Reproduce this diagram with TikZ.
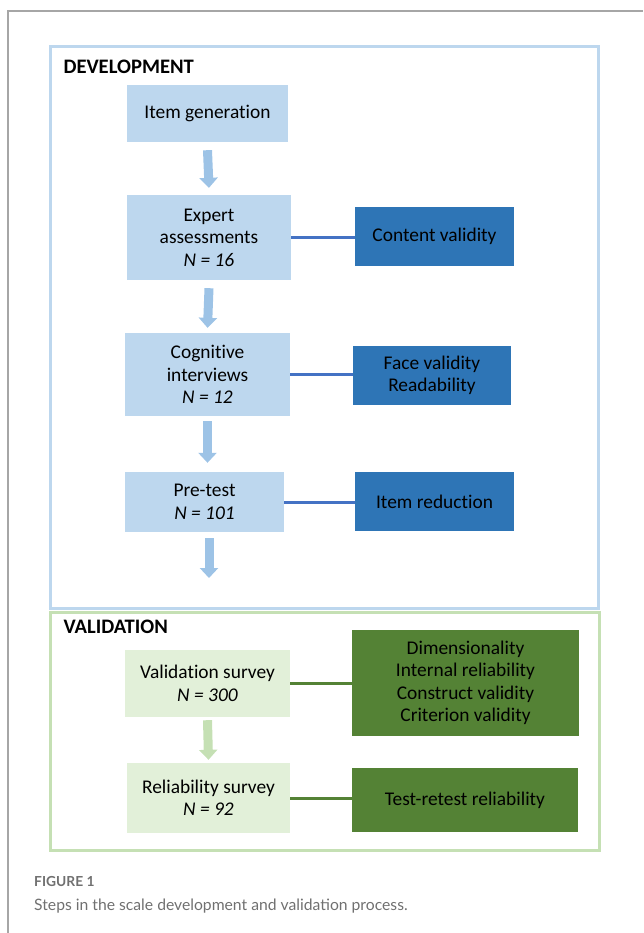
\documentclass[tikz,border=0pt]{standalone}
\usepackage{fontspec}
\setmainfont{Carlito}[Ligatures=NoCommon]
\newfontfamily\capfont{Lato}
\usetikzlibrary{arrows.meta}
\definecolor{devfill}{HTML}{BDD7EE}
\definecolor{devdark}{HTML}{2E75B6}
\definecolor{devline}{HTML}{4472C4}
\definecolor{devarrow}{HTML}{9DC3E6}
\definecolor{valfill}{HTML}{E2F0D9}
\definecolor{valdark}{HTML}{548235}
\definecolor{valarrow}{HTML}{C5E0B4}
\definecolor{framegray}{HTML}{A6A6A6}
\definecolor{capgray}{HTML}{707070}
\tikzset{
  box/.style={minimum width=#1, inner sep=0pt, align=center,
              font=\fontsize{19.4}{22.5}\selectfont},
  devbox/.style={box=#1, fill=devfill},
  devres/.style={box=#1, fill=devdark},
  valbox/.style={box=#1, fill=valfill},
  valres/.style={box=#1, fill=valdark},
  flow/.style={line width=9pt, -{Triangle[width=18pt, length=10pt]}},
  link/.style={line width=3pt},
  frametitle/.style={anchor=west, font=\fontsize{20.6}{23}\selectfont\bfseries},
}

\begin{document}
\begin{tikzpicture}[x=1pt, y=-1pt]
    \useasboundingbox (0,0) rectangle (643,933);
    \draw[framegray, line width=1.5pt] (8,933) -- (8,11) -- (643,11);

    \draw[devfill, line width=3pt] (50,47) rectangle (598,608);
    \node[frametitle] (devtitle) at (60,67) {DEVELOPMENT};
    \node[devbox=161pt, minimum height=57pt] (itemgen) at (207.5,113.5) {Item generation};
    \node[devbox=164pt, minimum height=85pt] (expert) at (209,237.5) {Expert\\assessments\\\textit{N = 16}};
    \node[devres=159pt, minimum height=59pt] (content) at (434.5,236.5) {Content validity};
    \node[devbox=165pt, minimum height=83pt] (cognitive) at (207.5,374.5) {Cognitive\\interviews\\\textit{N = 12}};
    \node[devres=158pt, minimum height=59pt] (face) at (432,375.5) {Face validity\\Readability};
    \node[devbox=159pt, minimum height=60pt] (pretest) at (204.5,502) {Pre-test\\\textit{N = 101}};
    \node[devres=159pt, minimum height=59pt] (reduction) at (434.5,501.5) {Item reduction};
    \coordinate (devout) at (209,578);

    \draw[flow, devarrow] ([yshift=-8pt]itemgen.south) -- ([yshift=7pt]expert.north);
    \draw[flow, devarrow] ([yshift=-8pt]expert.south) -- ([yshift=5pt]cognitive.north);
    \draw[flow, devarrow] ([yshift=-5pt]cognitive.south) -- ([yshift=9pt]pretest.north -| cognitive.south);
    \draw[flow, devarrow] ([yshift=-6pt]pretest.south -| devout) -- (devout);
    \draw[link, devline] (expert.east) -- (expert.east -| content.west);
    \draw[link, devline] (cognitive.east) -- (cognitive.east -| face.west);
    \draw[link, devline] (pretest.east) -- (pretest.east -| reduction.west);

    \draw[valarrow, line width=3pt] (50,612) rectangle (599,850);
    \node[frametitle] (valtitle) at (60,627) {VALIDATION};
    \node[valbox=165pt, minimum height=67pt] (valsurvey) at (207.5,683.5) {Validation survey\\\textit{N = 300}};
    \node[valres=227pt, minimum height=106pt] (valresults) at (465.5,683) {Dimensionality\\Internal reliability\\Construct validity\\Criterion validity};
    \node[valbox=163pt, minimum height=70pt] (relsurvey) at (208.5,798) {Reliability survey\\\textit{N = 92}};
    \node[valres=226pt, minimum height=64pt] (retest) at (465,800) {Test-retest reliability};

    \draw[flow, valarrow] ([yshift=-3pt]valsurvey.south) -- ([yshift=3pt]relsurvey.north);
    \draw[link, valdark] (valsurvey.east) -- (valsurvey.east -| valresults.west);
    \draw[link, valdark] (relsurvey.east) -- (relsurvey.east -| retest.west);

    \node[anchor=base west, inner sep=0pt, text=capgray, font=\capfont\bfseries\fontsize{13.8}{15}\selectfont] (figlabel) at (34,886) {FIGURE 1};
    \node[anchor=base west, inner sep=0pt, text=capgray, font=\capfont\fontsize{15.7}{18}\selectfont] (caption) at (34,910) {Steps in the scale development and validation process.};
\end{tikzpicture}
\end{document}
